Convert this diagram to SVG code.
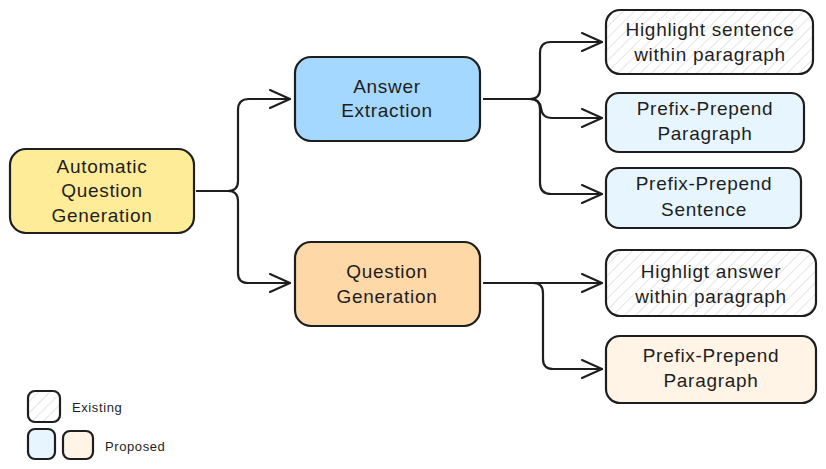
<svg xmlns="http://www.w3.org/2000/svg" width="826" height="469" viewBox="0 0 826 469">
<defs>
<pattern id="hatch" patternUnits="userSpaceOnUse" width="8" height="8" patternTransform="rotate(45)">
<rect width="8" height="8" fill="#ffffff"/>
<line x1="0" y1="0" x2="0" y2="8" stroke="#d4d4d8" stroke-width="1.2"/>
</pattern>
<marker id="arr" viewBox="0 0 24 20" refX="22" refY="10" markerWidth="24" markerHeight="20" markerUnits="userSpaceOnUse" orient="auto">
<path d="M2 1 L22 10 L2 19" fill="none" stroke="#1e1e1e" stroke-width="2" stroke-linecap="round" stroke-linejoin="round"/>
</marker>
</defs>
<style>
.box{stroke:#1e1e1e;stroke-width:2.2}
.t{font-family:"Liberation Sans",Arial,sans-serif;font-size:19px;letter-spacing:0.7px;fill:#1e1e1e;text-anchor:middle}
.s{font-family:"Liberation Sans",Arial,sans-serif;font-size:13px;letter-spacing:0.6px;fill:#1e1e1e}
.c{fill:none;stroke:#1e1e1e;stroke-width:2.2;stroke-linecap:round;stroke-linejoin:round}
</style>
<rect width="826" height="469" fill="#ffffff"/>
<g id="connectors">
<path class="c" d="M197 191 H228 Q238 191 238 181 V110 Q238 99 249 99 H290" marker-end="url(#arr)"/>
<path class="c" d="M197 191 H228 Q238 191 238 201 V273 Q238 283 248 283 H290" marker-end="url(#arr)"/>
<path class="c" d="M484 99 H530 Q540 99 540 89 V53 Q540 42 551 42 H602" marker-end="url(#arr)"/>
<path class="c" d="M484 99 H530 Q540 99 541 108 Q542 118 552 118 H602" marker-end="url(#arr)"/>
<path class="c" d="M484 99 H530 Q540 99 540 109 V183 Q540 194 551 194 H602" marker-end="url(#arr)"/>
<path class="c" d="M484 283 H602" marker-end="url(#arr)"/>
<path class="c" d="M484 283 H533 Q543 283 543 293 V359 Q543 369 553 369 H602" marker-end="url(#arr)"/>
</g>
<g id="aqg">
<rect class="box" x="10" y="149" width="184" height="84" rx="16" fill="#ffec99"/>
<text class="t" x="102" y="173">Automatic</text>
<text class="t" x="102" y="197">Question</text>
<text class="t" x="102" y="222">Generation</text>
</g>
<g id="answer-extraction">
<rect class="box" x="295" y="57" width="185" height="84" rx="16" fill="#a5d8ff"/>
<text class="t" x="387" y="93">Answer</text>
<text class="t" x="387" y="117">Extraction</text>
</g>
<g id="question-generation">
<rect class="box" x="295" y="242" width="185" height="84" rx="16" fill="#ffd8a8"/>
<text class="t" x="387" y="278">Question</text>
<text class="t" x="387" y="303">Generation</text>
</g>
<g id="highlight-sentence">
<rect class="box" x="606" y="10" width="207" height="64" rx="14" fill="url(#hatch)"/>
<text class="t" x="710" y="36">Highlight sentence</text>
<text class="t" x="710" y="61">within paragraph</text>
</g>
<g id="pp-paragraph-ae">
<rect class="box" x="606" y="93" width="198" height="59" rx="13" fill="#e7f5ff"/>
<text class="t" x="705" y="115">Prefix-Prepend</text>
<text class="t" x="705" y="140">Paragraph</text>
</g>
<g id="pp-sentence">
<rect class="box" x="606" y="168" width="195" height="60" rx="13" fill="#e7f5ff"/>
<text class="t" x="704" y="190">Prefix-Prepend</text>
<text class="t" x="704" y="216">Sentence</text>
</g>
<g id="highlight-answer">
<rect class="box" x="606" y="250" width="210" height="66" rx="14" fill="url(#hatch)"/>
<text class="t" x="711" y="278">Highligt answer</text>
<text class="t" x="711" y="303">within paragraph</text>
</g>
<g id="pp-paragraph-qg">
<rect class="box" x="606" y="336" width="210" height="67" rx="14" fill="#fff4e6"/>
<text class="t" x="711" y="362">Prefix-Prepend</text>
<text class="t" x="711" y="387">Paragraph</text>
</g>
<g id="legend">
<rect class="box" x="28" y="391" width="32" height="31" rx="7" fill="url(#hatch)"/>
<text class="s" x="72" y="412">Existing</text>
<rect class="box" x="28" y="429" width="27" height="30" rx="7" fill="#e7f5ff"/>
<rect class="box" x="63" y="431" width="30" height="28" rx="7" fill="#fff4e6"/>
<text class="s" x="105" y="451">Proposed</text>
</g>
</svg>
